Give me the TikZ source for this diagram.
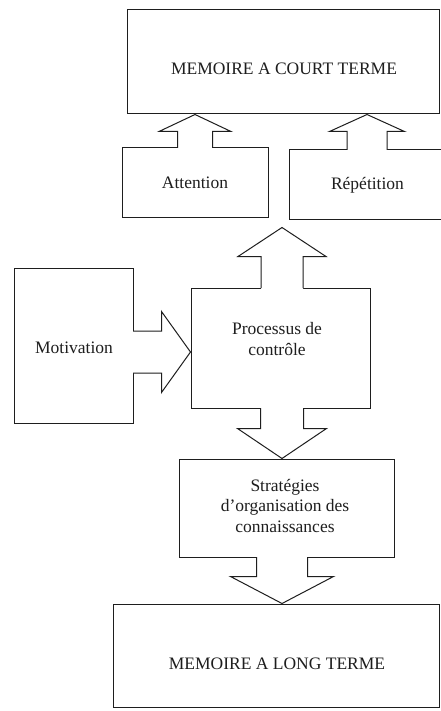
\documentclass[tikz,border=0pt]{standalone}
\usepackage{fontspec}
\setmainfont{Liberation Serif}
\usetikzlibrary{calc}
\definecolor{ink}{HTML}{1E1E1E}
\tikzset{
  box/.style={draw=ink, line width=1pt, rectangle, inner sep=0pt},
  lbl/.style={text=ink, font=\fontsize{17.5}{20.5}\selectfont, inner sep=0pt, anchor=base, align=center},
  fat/.style={draw=ink, line width=1pt, line join=miter},
}
% fat block arrow: base, tip, head length, shaft half width, head half width
\newcommand\fatarrow[5]{%
  \coordinate (fB) at (#1);
  \coordinate (fT) at (#2);
  \coordinate (fH) at ($(fT)!#3!(fB)$);
  \coordinate (fF) at ($(fB)!-1.3pt!(fT)$);
  \coordinate (fL) at ($(fB)!-0.5pt!(fT)$);
  \fill[white] ($(fF)!#4!90:(fT)$) -- ($(fH)!#4!90:(fT)$) -- ($(fH)!#5!90:(fT)$) -- (fT)
     -- ($(fH)!#5!-90:(fT)$) -- ($(fH)!#4!-90:(fT)$) -- ($(fF)!#4!-90:(fT)$) -- cycle;
  \draw[fat] ($(fL)!#4!90:(fT)$) -- ($(fH)!#4!90:(fT)$) -- ($(fH)!#5!90:(fT)$) -- (fT)
     -- ($(fH)!#5!-90:(fT)$) -- ($(fH)!#4!-90:(fT)$) -- ($(fL)!#4!-90:(fT)$);
}
\begin{document}
\begin{tikzpicture}[x=1pt, y=-1pt]
\useasboundingbox (0,0) rectangle (441,711);
\fill[white] (0,0) rectangle (441,711);

% boxes
\node[box, minimum width=312, minimum height=104] (mct) at (283,62) {};
\node[box, minimum width=146, minimum height=70] (att) at (195,183) {};
\node[box, minimum width=156, minimum height=70] (rep) at (367,185) {};
\node[box, minimum width=119, minimum height=155] (mot) at (73.5,345.5) {};
\node[box, minimum width=179, minimum height=120] (proc) at (280.5,348) {};
\node[box, minimum width=215, minimum height=98] (strat) at (286.5,508) {};
\node[box, minimum width=326, minimum height=103] (mlt) at (276,655.5) {};

% block arrows
\fatarrow{att.north}{att.north |- mct.south}{17pt}{17.5pt}{36pt}
\fatarrow{rep.north}{rep.north |- mct.south}{17pt}{20pt}{37.5pt}
\coordinate (mb) at ($(mot.east)+(0,6.5)$);
\fatarrow{mb}{mb -| proc.west}{29pt}{21pt}{40.5pt}
\coordinate (pu) at ($(proc.north)+(1.5,0)$);
\coordinate (put) at ($(pu)+(0,-60)$);
\fatarrow{pu}{put}{29pt}{21pt}{44pt}
\coordinate (pd) at ($(proc.south)+(1.5,0)$);
\fatarrow{pd}{pd |- strat.north}{30pt}{21.5pt}{44.5pt}
\coordinate (sd) at ($(strat.south)+(-4.5,0)$);
\fatarrow{sd}{sd |- mlt.north}{27pt}{25.5pt}{51.5pt}

% texts
\node[lbl] (mcttxt) at (284,75) {MEMOIRE A COURT TERME};
\node[lbl] (atttxt) at (195,189) {Attention};
\node[lbl] (reptxt) at (367.5,190) {Répétition};
\node[lbl] (mottxt) at (74,353) {Motivation};
\node[lbl] (proctxt) at (277,355) {Processus de\\contrôle};
\node[lbl] (strattxt) at (285,532) {Stratégies\\d’organisation des\\connaissances};
\node[lbl] (mlttxt) at (277,669) {MEMOIRE A LONG TERME};
\end{tikzpicture}
\end{document}
